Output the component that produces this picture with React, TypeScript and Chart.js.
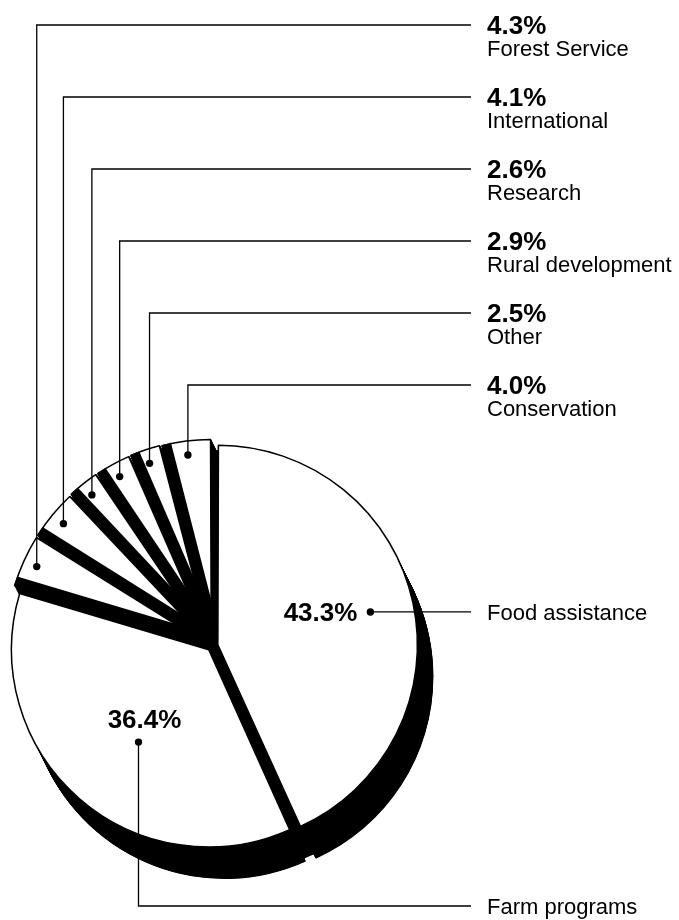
import React, { useEffect, useRef } from "react";
import { Chart, registerables } from "chart.js";

Chart.register(...registerables);

// ---- data ----
const categories = [
  "Food assistance",
  "Farm programs",
  "Forest Service",
  "International",
  "Research",
  "Rural development",
  "Other",
  "Conservation",
];
const shares = [43.3, 36.4, 4.3, 4.1, 2.6, 2.9, 2.5, 4.0];
const percentLabels = ["43.3%", "36.4%", "4.3%", "4.1%", "2.6%", "2.9%", "2.5%", "4.0%"];
const sliceOffsets = [24, 20, 24, 24, 24, 24, 24, 24];

const FONT = '"Liberation Sans", Arial, Helvetica, sans-serif';
const EXTRUDE_X = 16;
const EXTRUDE_Y = 32;

function geom(el: any) {
  const p = el.getProps(["x", "y", "startAngle", "endAngle", "outerRadius", "circumference"], true);
  const off = (el.options.offset || 0) / 4;
  const mid = (p.startAngle + p.endAngle) / 2;
  const fix = 1 - Math.sin(Math.min(Math.PI, p.circumference || 0));
  return {
    x: p.x,
    y: p.y,
    R: p.outerRadius,
    cx: p.x + Math.cos(mid) * off,
    cy: p.y + Math.sin(mid) * off,
    r: p.outerRadius + off * fix,
    start: p.startAngle,
    end: p.endAngle,
    mid,
  };
}

const extrudePlugin = {
  id: "extrude",
  beforeDatasetsDraw(chart: any) {
    const ctx = chart.ctx;
    const meta = chart.getDatasetMeta(0);
    const gs = meta.data.map(geom);
    if (!gs.length) return;
    ctx.save();
    ctx.fillStyle = "#000";
    const N = 80;
    for (let j = 0; j <= N; j++) {
      const tx = (EXTRUDE_X * j) / N;
      const ty = (EXTRUDE_Y * j) / N;
      ctx.beginPath();
      const g0 = gs[0];
      ctx.moveTo(g0.x + tx + g0.R, g0.y + ty);
      ctx.arc(g0.x + tx, g0.y + ty, g0.R, 0, Math.PI * 2);
      ctx.closePath();
      for (const g of gs) {
        ctx.moveTo(g.cx + tx, g.cy + ty);
        ctx.arc(g.cx + tx, g.cy + ty, g.r, g.start, g.end);
        ctx.closePath();
      }
      ctx.fill();
    }
    ctx.restore();
  },
};

const wallPlugin = {
  id: "walls",
  afterDatasetsDraw(chart: any) {
    const ctx = chart.ctx;
    const meta = chart.getDatasetMeta(0);
    meta.data.forEach((el: any, i: number) => {
      if (i < 2) return;
      const g = geom(el);
      const s = g.start;
      const ux = Math.cos(s), uy = Math.sin(s);
      const nx = -Math.sin(s), ny = Math.cos(s);
      const L = g.r + 20;
      const w = 10;
      ctx.save();
      ctx.beginPath();
      ctx.moveTo(g.cx, g.cy);
      ctx.arc(g.cx, g.cy, g.r + 0.7, g.start, g.end);
      ctx.closePath();
      ctx.clip();
      ctx.fillStyle = "#000";
      ctx.beginPath();
      ctx.moveTo(g.cx - ux * 5 - nx * 2, g.cy - uy * 5 - ny * 2);
      ctx.lineTo(g.cx + ux * L - nx * 2, g.cy + uy * L - ny * 2);
      ctx.lineTo(g.cx + ux * L + nx * w, g.cy + uy * L + ny * w);
      ctx.lineTo(g.cx - ux * 5 + nx * w, g.cy - uy * 5 + ny * w);
      ctx.closePath();
      ctx.fill();
      ctx.restore();
    });
  },
};

const LINE_END_X = 471;
const TEXT_X = 487;
const TOP_LABEL_Y = 25;
const LABEL_STEP = 72;
const FARM_LABEL_Y = 906;

function dot(ctx: any, x: number, y: number) {
  ctx.beginPath();
  ctx.arc(x, y, 3.7, 0, Math.PI * 2);
  ctx.fill();
}

const labelPlugin = {
  id: "leaders",
  afterDraw(chart: any) {
    const ctx = chart.ctx;
    const meta = chart.getDatasetMeta(0);
    const gs = meta.data.map(geom);
    ctx.save();
    ctx.strokeStyle = "#000";
    ctx.fillStyle = "#000";
    ctx.lineWidth = 1.3;

    // Food assistance
    {
      const g = gs[0];
      const rd = 156;
      const px = g.cx + Math.cos(g.mid) * rd;
      const py = g.cy + Math.sin(g.mid) * rd;
      ctx.beginPath();
      ctx.moveTo(px, py);
      ctx.lineTo(LINE_END_X, py);
      ctx.stroke();
      dot(ctx, px, py);
      ctx.font = `bold 26px ${FONT}`;
      ctx.textAlign = "right";
      ctx.textBaseline = "alphabetic";
      ctx.fillText(percentLabels[0], px - 13, py + 9.5);
      ctx.font = `22px ${FONT}`;
      ctx.textAlign = "left";
      ctx.fillText(categories[0], TEXT_X, py + 8);
    }

    // Farm programs
    {
      const g = gs[1];
      const a = g.start + 0.47 * (g.end - g.start);
      const rd = 116;
      const px = g.cx + Math.cos(a) * rd;
      const py = g.cy + Math.sin(a) * rd;
      ctx.beginPath();
      ctx.moveTo(px, py);
      ctx.lineTo(px, FARM_LABEL_Y);
      ctx.lineTo(LINE_END_X, FARM_LABEL_Y);
      ctx.stroke();
      dot(ctx, px, py);
      ctx.font = `bold 26px ${FONT}`;
      ctx.textAlign = "center";
      ctx.fillText(percentLabels[1], px + 6, py - 14);
      ctx.font = `22px ${FONT}`;
      ctx.textAlign = "left";
      ctx.fillText(categories[1], TEXT_X, FARM_LABEL_Y + 8);
    }

    // small slices
    for (let i = 2; i < gs.length; i++) {
      const g = gs[i];
      const k = i - 2;
      const rd = g.r - 14;
      const px = g.cx + Math.cos(g.mid) * rd;
      const py = g.cy + Math.sin(g.mid) * rd;
      const ly = TOP_LABEL_Y + LABEL_STEP * k;
      ctx.beginPath();
      ctx.moveTo(px, py);
      ctx.lineTo(px, ly);
      ctx.lineTo(LINE_END_X, ly);
      ctx.stroke();
      dot(ctx, px, py);
      ctx.textAlign = "left";
      ctx.font = `bold 26px ${FONT}`;
      ctx.fillText(percentLabels[i], TEXT_X, ly + 9);
      ctx.font = `22px ${FONT}`;
      ctx.fillText(categories[i], TEXT_X, ly + 31);
    }
    ctx.restore();
  },
};

export default function App() {
  const ref = useRef<HTMLCanvasElement | null>(null);
  useEffect(() => {
    if (!ref.current) return;
    const chart = new Chart(ref.current, {
      type: "pie",
      data: {
        labels: categories,
        datasets: [
          {
            data: shares,
            backgroundColor: "#ffffff",
            borderColor: "#000000",
            borderWidth: 1.5,
            offset: sliceOffsets,
            radius: 196,
            clip: false,
          } as any,
        ],
      },
      options: {
        responsive: false,
        animation: false,
        events: [],
        layout: { padding: { left: 12, right: 267, top: 446, bottom: 74 } },
        plugins: { legend: { display: false }, tooltip: { enabled: false } },
      } as any,
      plugins: [extrudePlugin, wallPlugin, labelPlugin],
    });
    return () => chart.destroy();
  }, []);
  return (
    <div style={{ position: "absolute", left: 0, top: 0, width: 679, height: 920, background: "#fff" }}>
      <canvas ref={ref} width={679} height={920} style={{ display: "block", width: 679, height: 920 }} />
    </div>
  );
}
